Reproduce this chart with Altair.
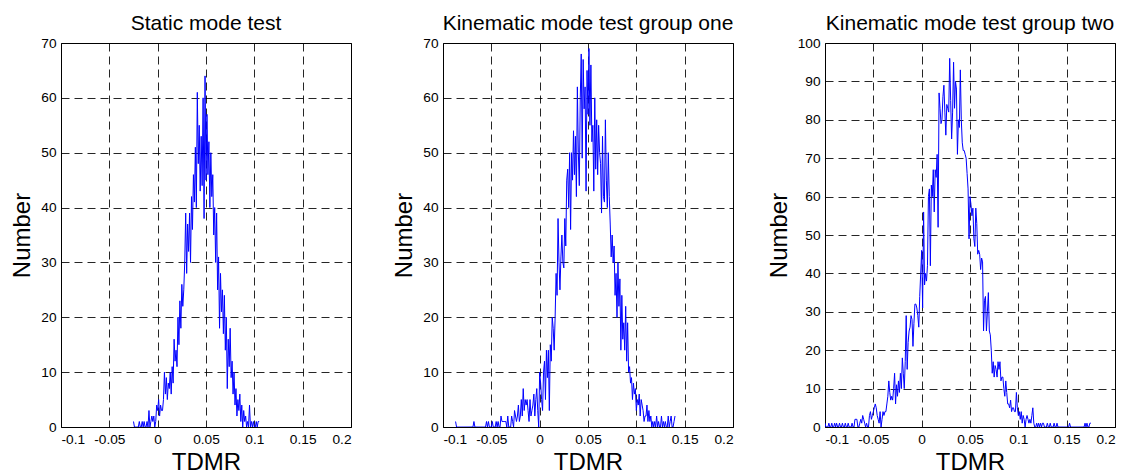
import altair as alt
import pandas as pd

# ---- data (histogram counts, bin width 0.001) ----
bin_step = 0.001

static_start = -0.025
static_counts = [
    1, 0, 0, 0, 0, 0, 1, 0, 0, 1,
    0, 1, 0, 0, 1, 0, 3, 0, 1, 2,
    1, 2, 0, 1, 4, 3, 5, 2, 4, 3,
    3, 5, 10, 6, 9, 5, 8, 7, 10, 6,
    11, 8, 16, 12, 14, 11, 20, 15, 23, 18,
    26, 22, 25, 30, 39, 28, 37, 32, 39, 30,
    42, 36, 46, 41, 51, 40, 61, 48, 55, 43,
    53, 44, 60, 38, 64, 45, 57, 46, 52, 40,
    50, 42, 46, 35, 40, 30, 39, 25, 31, 18,
    28, 21, 25, 17, 24, 14, 20, 7, 16, 11,
    18, 9, 12, 6, 10, 4, 7, 2, 5, 3,
    6, 1, 4, 0, 3, 1, 2, 0, 1, 0,
    4, 0, 1, 0, 1, 0, 0, 1, 0, 1, 1,
]

kin1_start = -0.087
kin1_counts = [
    1, 0, 0, 0, 0, 0, 0, 0, 0, 0,
    0, 0, 0, 0, 0, 0, 0, 0, 0, 1,
    0, 0, 0, 0, 0, 0, 0, 0, 0, 0,
    0, 0, 1, 0, 1, 0, 0, 0, 1, 0,
    0, 0, 1, 0, 1, 0, 0, 2, 1, 1,
    1, 1, 1, 0, 2, 0, 0, 0, 2, 1,
    0, 3, 2, 1, 2, 4, 1, 2, 5, 2,
    7, 3, 5, 4, 5, 3, 1, 5, 2, 3,
    4, 6, 2, 5, 7, 3, 0, 10, 8, 5,
    3, 10, 12, 5, 14, 9, 14, 3, 15, 12,
    20, 18, 14, 20, 28, 24, 38, 30, 25, 31,
    35, 30, 29, 38, 33, 45, 47, 40, 50, 36,
    50, 45, 54, 46, 53, 42, 62, 50, 44, 60,
    68, 49, 67, 58, 62, 43, 65, 57, 69, 55,
    66, 52, 55, 43, 60, 47, 56, 46, 55, 50,
    48, 39, 53, 42, 41, 56, 45, 40, 50, 42,
    37, 31, 35, 30, 33, 24, 28, 20, 30, 22,
    27, 14, 24, 16, 19, 14, 22, 12, 19, 10,
    11, 8, 9, 5, 8, 6, 7, 3, 5, 4,
    6, 2, 5, 4, 3, 1, 2, 2, 4, 1,
    3, 1, 2, 0, 1, 0, 1, 0, 2, 0,
    1, 0, 0, 2, 0, 1, 0, 1, 0, 0,
    2, 0, 1, 2, 0, 0, 1, 2,
]

kin2_start = -0.100
kin2_counts = [
    1, 0, 0, 0, 1, 0, 0, 1, 0, 0,
    1, 0, 1, 0, 0, 1, 0, 0, 1, 0,
    0, 1, 0, 0, 1, 0, 0, 0, 1, 0,
    0, 2, 2, 2, 0, 0, 1, 2, 1, 3,
    2, 1, 0, 1, 0, 0, 3, 4, 2, 3,
    4, 5, 6, 5, 3, 2, 1, 4, 0, 2,
    4, 3, 4, 4, 6, 8, 12, 9, 7, 8,
    7, 10, 14, 6, 11, 8, 12, 9, 14, 10,
    18, 14, 10, 17, 29, 15, 22, 25, 26, 29,
    28, 21, 27, 32, 32, 31, 29, 26, 34, 40,
    46, 31, 56, 37, 40, 38, 42, 60, 62, 42,
    63, 60, 67, 56, 67, 65, 71, 52, 87, 83,
    79, 80, 86, 89, 82, 76, 84, 83, 82, 96,
    85, 75, 82, 95, 83, 90, 88, 71, 80, 78,
    93, 80, 74, 72, 72, 71, 70, 66, 62, 49,
    60, 58, 55, 57, 49, 47, 57, 53, 45, 46,
    45, 41, 44, 43, 25, 33, 34, 25, 30, 35,
    25, 24, 20, 14, 17, 13, 16, 15, 13, 17,
    15, 17, 12, 13, 13, 10, 8, 12, 9, 6,
    6, 5, 7, 4, 5, 5, 4, 4, 9, 5,
    3, 4, 2, 4, 1, 3, 2, 0, 2, 3,
    2, 1, 2, 1, 3, 5, 1, 0, 0, 1,
    0, 1, 0, 1, 0, 1, 1, 0, 0, 0,
    1, 0, 0, 1, 0, 0, 0, 1, 0, 0,
    1, 0, 0, 0, 0, 0, 0, 0, 0, 0,
    0, 0, 0, 1, 0, 0, 0, 0, 0, 0,
    0, 0, 0, 0, 0, 0, 0, 0, 0, 1,
    0, 1, 0, 0, 1, 1,
]

panel_titles = ["Static mode test", "Kinematic mode test group one", "Kinematic mode test group two"]
x_ticks = [-0.1, -0.05, 0, 0.05, 0.1, 0.15, 0.2]
y_max = [70, 70, 100]

FONT = "Liberation Sans"


def panel(title, start, counts, ymax):
    df = pd.DataFrame({
        "TDMR": [round(start + i * bin_step, 4) for i in range(len(counts))],
        "Number": counts,
    })
    return alt.Chart(df).mark_line(color="#0000ff", strokeWidth=1, clip=True).encode(
        x=alt.X("TDMR:Q",
                scale=alt.Scale(domain=[-0.1, 0.2], nice=False, zero=False),
                axis=alt.Axis(values=x_ticks, format="~g",
                              labelExpr="replace(datum.label, '\u2212', '-')",
                              title="TDMR")),
        y=alt.Y("Number:Q",
                scale=alt.Scale(domain=[0, ymax], nice=False),
                axis=alt.Axis(values=list(range(0, ymax + 1, 10)), title="Number")),
    ).properties(width=290, height=384, title=alt.TitleParams(title))


charts = [panel(t, s, c, m) for t, s, c, m in zip(
    panel_titles, [static_start, kin1_start, kin2_start],
    [static_counts, kin1_counts, kin2_counts], y_max)]

chart = alt.HConcatChart(hconcat=charts, spacing=92, bounds="flush").properties(
    padding={"left": 2, "top": 4, "right": 0, "bottom": 0}
).configure(
    background="white",
).configure_view(
    stroke="black", strokeWidth=1,
).configure_axis(
    labelFont=FONT, labelFontSize=13.7, labelColor="black",
    titleFont=FONT, titleFontSize=24, titleFontWeight="normal", titleColor="black",
    grid=True, gridColor="black", gridDash=[8, 5], gridOpacity=0.85, gridWidth=1,
    domain=False, ticks=False, labelPadding=5,
).configure_axisX(
    titlePadding=5,
).configure_axisY(
    titlePadding=6,
).configure_title(
    font=FONT, fontSize=21, fontWeight="normal", color="black",
    baseline="alphabetic", offset=2, anchor="middle",
)

chart.save("out.html", embed_options={"renderer": "svg", "actions": False})
